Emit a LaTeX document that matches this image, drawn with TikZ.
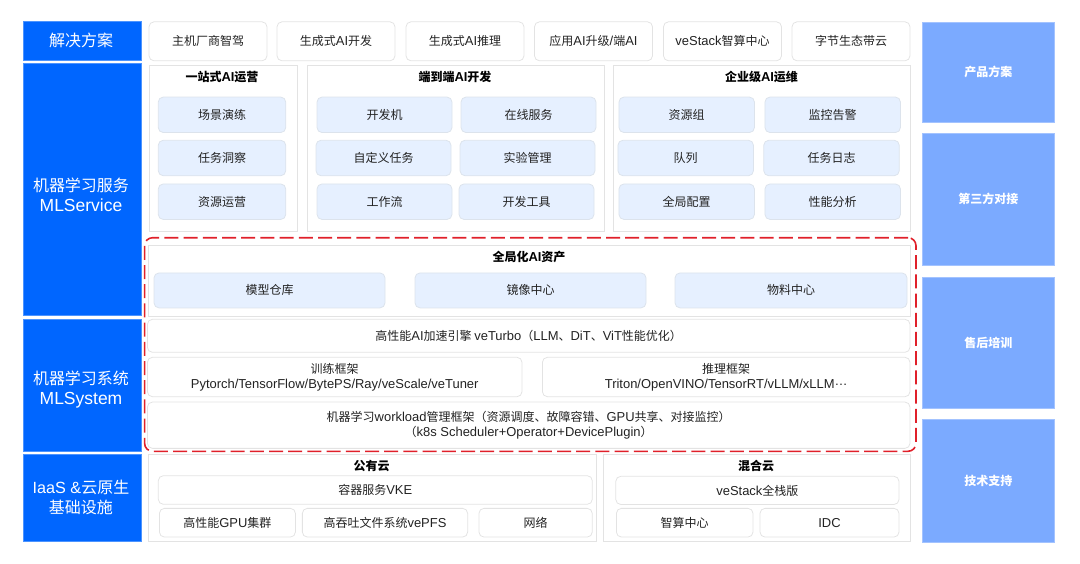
\documentclass[tikz,border=0pt]{standalone}
\usepackage{fontspec}
\setmainfont{Noto Sans CJK SC}
\newfontfamily\latinface[Scale=1.08]{Liberation Sans}
\newcommand{\ltn}[1]{{\latinface #1}}
\definecolor{sideblue}{HTML}{0066FF}
\definecolor{sidelight}{HTML}{7BAAFF}
\definecolor{softfill}{HTML}{E6F0FF}
\definecolor{softline}{HTML}{DCE3EC}
\definecolor{panelline}{HTML}{E3E3E3}
\definecolor{inktext}{HTML}{222222}
\definecolor{framered}{HTML}{E0202A}
\tikzset{
	sidebox/.style={fill=sideblue, draw=sideblue!70!white, line width=0.4pt, inner sep=0pt},
	sidetext/.style={text=white, align=center, inner sep=0pt, font=\fontsize{16}{20}\selectfont},
	lightbox/.style={fill=sidelight, draw=sidelight!70!white, line width=0.4pt, text=white, inner sep=0pt, font=\fontsize{12}{15}\bfseries\selectfont},
	panelbox/.style={draw=panelline, line width=0.8pt, inner sep=0pt},
	softbox/.style={fill=softfill, draw=softline, line width=0.8pt, rounded corners=5pt, text=inktext, inner sep=0pt, font=\fontsize{12}{15}\selectfont},
	plainbox/.style={draw=panelline, line width=0.8pt, rounded corners=5pt, text=inktext, align=center, inner sep=0pt, font=\fontsize{12}{15.3}\selectfont},
	headtext/.style={text=black, inner sep=0pt, font=\fontsize{12}{15}\bfseries\selectfont},
}

\begin{document}
\begin{tikzpicture}[x=1pt,y=-1pt]
	\useasboundingbox (0,0) rectangle (1080,563);
	% left column
	\node[sidebox, minimum width=118, minimum height=38.7] (solution) at (81.8,40.7) {};
	\node[sidetext] (solutiontext) at (81,40) {解决方案};
	\node[sidebox, minimum width=118, minimum height=252] (mlservice) at (81.8,189.3) {};
	\node[sidetext] (mlservicetext) at (81,195) {机器学习服务\\{\latinface\fontsize{16.2}{20}\selectfont MLService}};
	\node[sidebox, minimum width=118, minimum height=132] (mlsystem) at (81.8,384.7) {};
	\node[sidetext] (mlsystemtext) at (81,390) {机器学习系统\\{\latinface\fontsize{16.2}{20}\selectfont MLSystem}};
	\node[sidebox, minimum width=118, minimum height=87.7] (iaas) at (81.8,497.8) {};
	\node[sidetext] (iaastext) at (81,497.5) {{\latinface\fontsize{15}{20}\selectfont IaaS \&}云原生\\基础设施};
	% right column
	\node[lightbox, minimum width=132.3, minimum height=100.6] (product) at (988.3,72) {产品方案};
	\node[lightbox, minimum width=132.3, minimum height=131.7] (thirdparty) at (988.3,199.2) {第三方对接};
	\node[lightbox, minimum width=132.3, minimum height=131.6] (training) at (988.3,342.5) {售后培训};
	\node[lightbox, minimum width=132.3, minimum height=122.4] (support) at (988.3,480.5) {技术支持};
	% top row
	\node[plainbox, minimum width=118, minimum height=39] (oem) at (208,41.3) {主机厂商智驾};
	\node[plainbox, minimum width=118, minimum height=39] (gendev) at (336,41.3) {生成式\ltn{AI}开发};
	\node[plainbox, minimum width=118, minimum height=39] (geninfer) at (465,41.3) {生成式\ltn{AI}推理};
	\node[plainbox, minimum width=118, minimum height=39] (appai) at (593.5,41.3) {应用\ltn{AI}升级\ltn{/}端\ltn{AI}};
	\node[plainbox, minimum width=118, minimum height=39] (vestackcenter) at (722.5,41.3) {\ltn{veStack}智算中心};
	\node[plainbox, minimum width=118, minimum height=39] (bytecloud) at (851,41.3) {字节生态带云};
	% one stop panel
	\node[panelbox, minimum width=148, minimum height=165.7] (oneop) at (223,148.2) {};
	\node[headtext] (oneoptitle) at (222,76.6) {一站式\ltn{AI}运营};
	\node[softbox, minimum width=127.5, minimum height=35.5] (drill) at (222,114.8) {场景演练};
	\node[softbox, minimum width=127.5, minimum height=35.5] (insight) at (222,158) {任务洞察};
	\node[softbox, minimum width=127.5, minimum height=35.5] (resop) at (222,201.7) {资源运营};
	% end to end panel
	\node[panelbox, minimum width=297.7, minimum height=165.7] (e2e) at (455.8,148.2) {};
	\node[headtext] (e2etitle) at (455,76.6) {端到端\ltn{AI}开发};
	\node[softbox, minimum width=135, minimum height=35.5] (devbox) at (384.5,114.8) {开发机};
	\node[softbox, minimum width=135, minimum height=35.5] (online) at (528.5,114.8) {在线服务};
	\node[softbox, minimum width=135, minimum height=35.5] (customjob) at (383.5,158) {自定义任务};
	\node[softbox, minimum width=135, minimum height=35.5] (experiment) at (527.5,158) {实验管理};
	\node[softbox, minimum width=135, minimum height=35.5] (workflow) at (384.5,201.7) {工作流};
	\node[softbox, minimum width=135, minimum height=35.5] (devtool) at (526.5,201.7) {开发工具};
	% enterprise panel
	\node[panelbox, minimum width=297, minimum height=165.7] (entop) at (762,148.2) {};
	\node[headtext] (entoptitle) at (761.5,76.6) {企业级\ltn{AI}运维};
	\node[softbox, minimum width=135.5, minimum height=35.5] (resgroup) at (686.7,114.8) {资源组};
	\node[softbox, minimum width=135.5, minimum height=35.5] (alert) at (832.7,114.8) {监控告警};
	\node[softbox, minimum width=135.5, minimum height=35.5] (queue) at (685.7,158) {队列};
	\node[softbox, minimum width=135.5, minimum height=35.5] (joblog) at (831.5,158) {任务日志};
	\node[softbox, minimum width=135.5, minimum height=35.5] (globalconf) at (686.7,201.7) {全局配置};
	\node[softbox, minimum width=135.5, minimum height=35.5] (perf) at (832.7,201.7) {性能分析};
	% global assets
	\node[panelbox, minimum width=761.7, minimum height=70.3] (assets) at (529.6,280.8) {};
	\node[headtext] (assetstitle) at (529,256.6) {全局化\ltn{AI}资产};
	\node[softbox, minimum width=231, minimum height=35] (modelrepo) at (269.5,290.4) {模型仓库};
	\node[softbox, minimum width=231, minimum height=35] (imagecenter) at (530.5,290.4) {镜像中心};
	\node[softbox, minimum width=232, minimum height=35] (material) at (791,290.4) {物料中心};
	% system layers
	\node[plainbox, minimum width=762.6, minimum height=33] (veturbo) at (528.7,335.8) {高性能\ltn{AI}加速引擎 \ltn{veTurbo}（\ltn{LLM}、\ltn{DiT}、\ltn{ViT}性能优化）};
	\node[plainbox, minimum width=374.6, minimum height=39.4] (trainframe) at (334.7,377) {训练框架\\\ltn{Pytorch/TensorFlow/BytePS/Ray/veScale/veTuner}};
	\node[plainbox, minimum width=367.6, minimum height=39.4] (inferframe) at (726.2,377) {推理框架\\\ltn{Triton/OpenVINO/TensorRT/vLLM/xLLM\raisebox{3pt}{…}}};
	\node[plainbox, minimum width=762.6, minimum height=46.3] (workload) at (528.7,425.2) {机器学习\ltn{workload}管理框架（资源调度、故障容错、\ltn{GPU}共享、对接监控）\\（\ltn{k8s Scheduler+Operator+DevicePlugin}）};
	% public cloud
	\node[panelbox, minimum width=448, minimum height=87.4] (public) at (372.8,498) {};
	\node[headtext] (publictitle) at (371.5,466.2) {公有云};
	\node[plainbox, minimum width=434, minimum height=28.6] (vke) at (375.3,490) {容器服务\ltn{VKE}};
	\node[plainbox, minimum width=136, minimum height=28.7] (gpucluster) at (227.4,522.7) {高性能\ltn{GPU}集群};
	\node[plainbox, minimum width=165.3, minimum height=28.7] (vepfs) at (385,522.7) {高吞吐文件系统\ltn{vePFS}};
	\node[plainbox, minimum width=113.3, minimum height=28.7] (network) at (535.6,522.7) {网络};
	% hybrid cloud
	\node[panelbox, minimum width=306.8, minimum height=87.4] (hybrid) at (757,498) {};
	\node[headtext] (hybridtitle) at (756,466.2) {混合云};
	\node[plainbox, minimum width=283.2, minimum height=28.2] (vestackfull) at (757.4,490.4) {\ltn{veStack}全栈版};
	\node[plainbox, minimum width=136.6, minimum height=28.7] (aicenter) at (684.7,522.7) {智算中心};
	\node[plainbox, minimum width=139, minimum height=28.7] (idc) at (829.5,522.7) {\ltn{IDC}};
	% red frame
	\node[draw=framered, line width=1.6pt, dash pattern=on 14pt off 5.2pt, rounded corners=8pt, minimum width=771.4, minimum height=213.6] (redframe) at (530.3,344.5) {};
\end{tikzpicture}
\end{document}
